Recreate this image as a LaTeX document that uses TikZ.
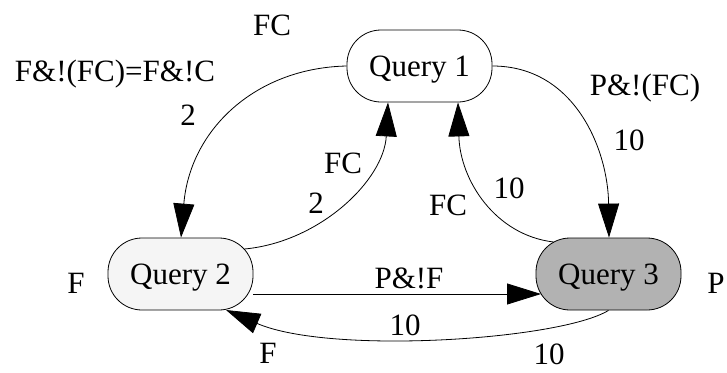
\documentclass[tikz,border=0pt]{standalone}
\usepackage{fontspec}
\setmainfont{Liberation Serif}
\usetikzlibrary{arrows.meta,calc}
\begin{document}
\begin{tikzpicture}[x=1pt,y=-1pt,
  qbox/.style={draw,line width=0.8pt,rounded corners=34pt,minimum width=145pt,minimum height=72pt,inner sep=0pt,text depth=0pt,font=\fontsize{31}{36}\selectfont},
  lbl/.style={anchor=base,inner sep=0pt,font=\fontsize{31}{36}\selectfont},
  edge/.style={line width=0.8pt,-{Triangle[length=34pt,width=21pt]}}]
\useasboundingbox (0,0) rectangle (727,372);
\node[qbox,fill=white] (q1) at (419.5,66) {Query 1};
\node[qbox,fill=black!4] (q2) at (180.5,274) {Query 2};
\node[qbox,fill=black!30] (q3) at (608.5,274) {Query 3};
% edges
\draw[edge] (q1.west) .. controls (255,68) and (190,130) .. ($(q2.north)+(0.5,0)$);
\draw[edge] ($(q2.center)+(64,-25)$) .. controls (320,242) and (384,180) .. ($(q1.south)+(-31.5,0)$);
\draw[edge] ($(q3.center)+(-55,-32)$) .. controls (495,235) and (460,180) .. ($(q1.south)+(38.5,0)$);
\draw[edge] (q1.east) .. controls (575,66) and (608,150) .. ($(q3.north)+(0.5,0)$);
\draw[edge] ($(q2.center)+(72.5,20)$) -- ($(q3.center)+(-67.5,20)$);
\draw[edge] (q3.south) .. controls (560,340) and (330,355) .. ($(q2.center)+(45.5,36)$);
% labels
\node[lbl] (l1) at (272,35) {FC};
\node[lbl] (l2) at (115,81) {F\&!(FC)=F\&!C};
\node[lbl] (l3) at (188,125) {2};
\node[lbl] (l4) at (343,173) {FC};
\node[lbl] (l5) at (316,213) {2};
\node[lbl] (l6) at (645,95) {P\&!(FC)};
\node[lbl] (l7) at (629,150) {10};
\node[lbl] (l8) at (509,198) {10};
\node[lbl] (l9) at (448,215) {FC};
\node[lbl] (l10) at (409,288) {P\&!F};
\node[lbl] (l11) at (716,293) {P};
\node[lbl] (l12) at (76,293) {F};
\node[lbl] (l13) at (405,335) {10};
\node[lbl] (l14) at (549,364) {10};
\node[lbl] (l15) at (268,363) {F};
\end{tikzpicture}
\end{document}
